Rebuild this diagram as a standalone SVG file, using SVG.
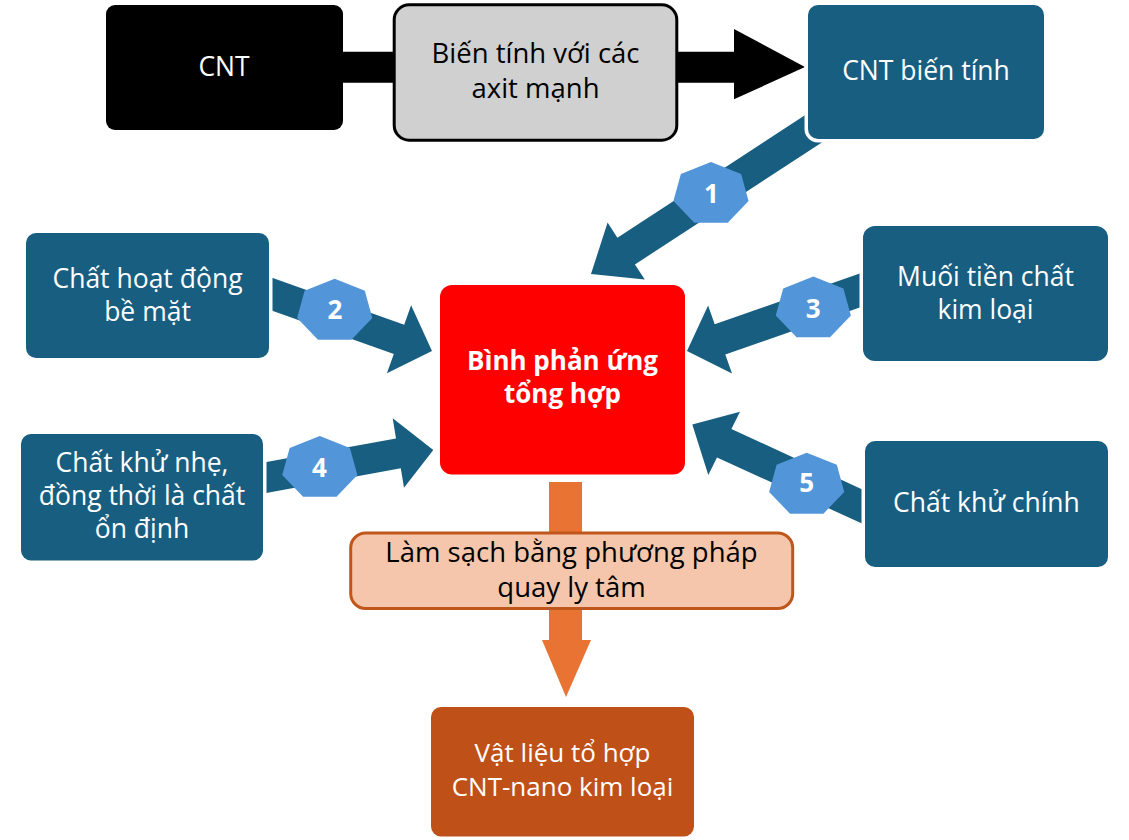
<svg xmlns="http://www.w3.org/2000/svg" width="1129" height="840" viewBox="0 0 1129 840">
  <defs>
    <style>
      .t { font-family: "Open Sans", "Noto Sans", "DejaVu Sans", sans-serif; text-anchor: middle; }
      .w { fill: #ffffff; font-size: 26.5px; }
      .k { fill: #000000; font-size: 27.5px; }
      .b { fill: #ffffff; font-size: 26px; font-weight: bold; }
      .teal { fill: #185E80; stroke: #ffffff; stroke-width: 7; paint-order: stroke; }
      .arr { fill: #185E80; }
      .hep { fill: #5295D8; }
      .num { fill: #ffffff; font-size: 26px; font-weight: bold; }
    </style>
    <polygon id="hepta" points="0,-32 29.25,-19.95 36.48,7.12 16.24,28.83 -16.24,28.83 -36.48,7.12 -29.25,-19.95"/>
  </defs>
  <rect width="1129" height="840" fill="#ffffff"/>

  <g id="connectors">
    <polygon id="arrow-top" fill="#000000" points="340,51.7 734,51.7 734,29 805,67 734,99.3 734,82.7 340,82.7"/>
    <polygon id="arrow-1" class="arr" points="831.3,98.1 617.4,237.7 607.6,222.6 591,274 644.8,279.5 634.9,264.5 848.7,124.9"/>
    <polygon id="arrow-2" class="arr" points="255.2,271.7 404.2,324.7 411.1,305.3 432,351 386.9,373.2 393.8,353.9 244.8,301.0"/>
    <polygon id="arrow-3" class="arr" points="874.7,268.2 714.7,324.3 708.1,305.4 687,351 732.0,373.4 725.3,354.5 885.3,298.4"/>
    <polygon id="arrow-4" class="arr" points="250,464.9 396,438.5 392.7,418.3 433.3,450 404,487.7 400.8,468.2 250,495.9"/>
    <polygon id="arrow-5" class="arr" points="885,500.1 731.4,428.9 740,411.7 692.3,424.5 708.3,475 717,457.6 885,533.9"/>
    <polygon id="arrow-down" fill="#E97333" points="549,482 582,482 582,640 591,640 566,697 542,640 549,640"/>
  </g>

  <g id="badge-1">
    <use href="#hepta" class="hep" transform="translate(711,194) scale(1.03,1)"/>
    <text class="t num" x="711.5" y="203.3">1</text>
  </g>
  <g id="badge-2">
    <use href="#hepta" class="hep" transform="translate(334.7,310.8) scale(1.03,1)"/>
    <text class="t num" x="335" y="319.3">2</text>
  </g>
  <g id="badge-3">
    <use href="#hepta" class="hep" transform="translate(813.3,308.5) scale(1.03,1)"/>
    <text class="t num" x="813.3" y="317.5">3</text>
  </g>
  <g id="badge-4">
    <use href="#hepta" class="hep" transform="translate(319.8,468) scale(1.03,1)"/>
    <text class="t num" x="319.5" y="476.7">4</text>
  </g>
  <g id="badge-5">
    <use href="#hepta" class="hep" transform="translate(806.7,484.8) scale(1.03,1)"/>
    <text class="t num" x="806.7" y="491.7">5</text>
  </g>

  <g id="node-cnt">
    <rect x="106" y="5" width="237" height="125" rx="9" fill="#000000"/>
    <text class="t w" x="224" y="76">CNT</text>
  </g>

  <g id="node-bien-tinh-axit">
    <rect x="394.2" y="4.8" width="282.6" height="135.4" rx="15" fill="#D0D0D0" stroke="#000000" stroke-width="3"/>
    <text class="t k" x="535.5" y="63">Biến tính với các</text>
    <text class="t k" x="535.5" y="98">axit mạnh</text>
  </g>

  <g id="node-cnt-bien-tinh">
    <rect class="teal" x="808" y="5" width="236" height="134" rx="10"/>
    <text class="t w" x="926" y="80">CNT biến tính</text>
  </g>

  <g id="node-chat-hoat-dong">
    <rect class="teal" x="26" y="233" width="243" height="125" rx="10"/>
    <text class="t w" x="147.5" y="288">Chất hoạt động</text>
    <text class="t w" x="147.5" y="321">bề mặt</text>
  </g>

  <g id="node-muoi">
    <rect class="teal" x="863" y="226" width="245" height="135" rx="12"/>
    <text class="t w" x="985.5" y="286">Muối tiền chất</text>
    <text class="t w" x="985.5" y="319">kim loại</text>
  </g>

  <g id="node-chat-khu-nhe">
    <rect class="teal" x="21" y="434" width="242" height="126.5" rx="10"/>
    <text class="t w" x="142" y="471.7">Chất khử nhẹ,</text>
    <text class="t w" x="142" y="504.7">đồng thời là chất</text>
    <text class="t w" x="142" y="537.7">ổn định</text>
  </g>

  <g id="node-chat-khu-chinh">
    <rect class="teal" x="865" y="441" width="243" height="126" rx="10"/>
    <text class="t w" x="986.5" y="511.7">Chất khử chính</text>
  </g>

  <g id="node-binh-phan-ung">
    <rect x="440" y="285" width="245" height="189.5" rx="12" fill="#FF0000"/>
    <text class="t b" x="562.5" y="370">Bình phản ứng</text>
    <text class="t b" x="562.5" y="403">tổng hợp</text>
  </g>

  <g id="node-lam-sach">
    <rect x="350.7" y="533" width="442" height="75.5" rx="15" fill="#F5C6AB" stroke="#C0561C" stroke-width="3"/>
    <text class="t k" x="571.5" y="561.7">Làm sạch bằng phương pháp</text>
    <text class="t k" x="571.5" y="596.7">quay ly tâm</text>
  </g>

  <g id="node-vat-lieu">
    <rect x="431" y="707" width="263" height="129.5" rx="10" fill="#BF5017"/>
    <text class="t w" x="562.5" y="762" style="font-size:26px">Vật liệu tổ hợp</text>
    <text class="t w" x="562.5" y="796" style="font-size:26px">CNT-nano kim loại</text>
  </g>
</svg>
